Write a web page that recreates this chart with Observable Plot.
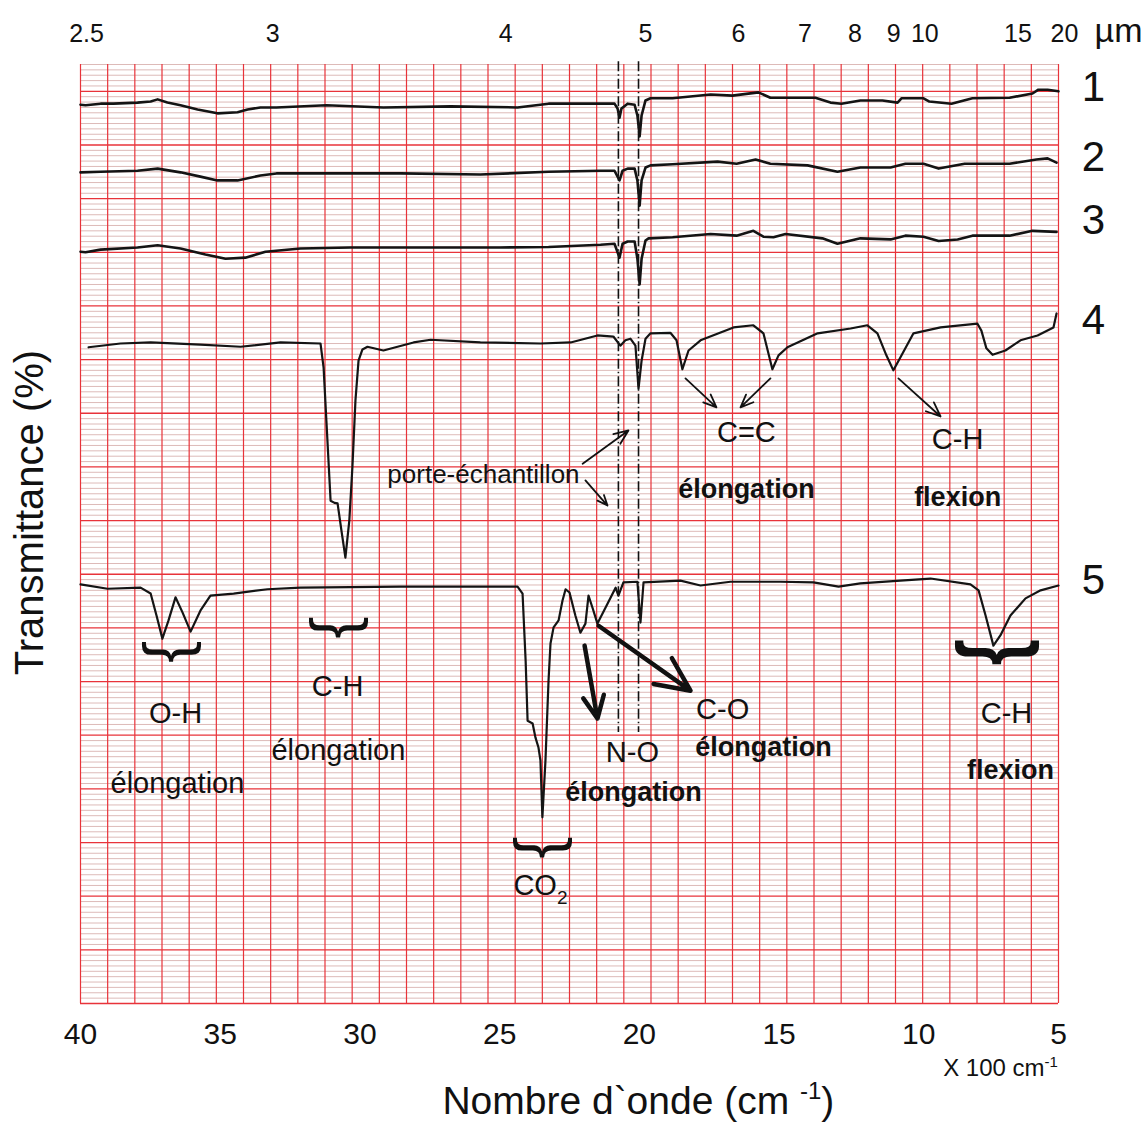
<!DOCTYPE html>
<html><head><meta charset="utf-8">
<script src="https://cdn.jsdelivr.net/npm/d3@7"></script>
<script src="https://cdn.jsdelivr.net/npm/@observablehq/plot@0.6"></script>
<style>
body{margin:0;background:#fff;}
#chart svg{display:block;}
</style></head><body><div id="chart"></div>
<script>
// Wavenumbers are in units of 100 cm-1; transmittance in chart-paper small divisions
const wn1 = [40.0,39.82,39.28,38.82,37.96,37.49,37.24,36.89,36.42,35.81,35.1,34.38,34.02,33.56,32.99,31.2,29.16,26.76,24.36,23.25,21.39,20.89,20.78,20.71,20.64,20.42,20.17,20.07,19.99,19.92,19.78,19.6,18.81,17.45,16.67,15.74,15.31,14.66,13.7,13.16,12.77,12.09,11.3,10.76,10.62,9.83,9.62,8.83,8.08,6.75,5.93,5.72,5.39,5.0];
const tr1 = [167.5,167.4,167.7,167.7,167.9,168.1,168.5,167.9,167.4,166.6,165.9,166.1,166.6,167.0,167.0,167.4,167.0,167.2,167.0,167.7,167.7,167.7,166.8,165.1,166.8,167.7,167.5,165.5,161.6,165.5,168.3,168.7,168.7,169.4,169.2,169.8,168.8,168.8,168.8,167.9,167.7,168.3,168.3,167.9,168.7,168.7,168.1,167.7,168.7,168.8,169.6,170.3,170.3,170.0];

const wn2 = [40.0,39.28,37.96,37.24,36.42,35.71,35.1,34.38,33.56,32.99,31.05,28.55,25.69,23.25,21.39,20.89,20.71,20.6,20.42,20.17,20.07,19.99,19.92,19.78,19.6,18.81,17.2,16.52,15.84,15.31,13.98,12.91,12.09,11.01,10.48,9.83,9.29,8.36,6.75,5.79,5.39,5.07];
const tr2 = [154.9,155.0,155.2,155.6,154.9,154.1,153.4,153.4,154.3,154.7,154.7,154.7,154.5,155.0,155.2,155.2,153.4,155.2,155.6,155.6,153.4,148.7,153.4,155.8,156.2,156.4,156.9,156.5,157.3,156.5,156.2,155.0,155.8,155.8,156.5,156.5,155.6,156.5,156.5,157.3,157.5,156.7];

const wn3 = [40.0,39.82,39.28,37.96,37.24,36.42,35.53,34.81,34.1,33.38,32.13,30.34,27.83,24.97,23.25,21.39,20.89,20.71,20.6,20.42,20.17,20.07,19.99,19.92,19.78,19.67,18.81,17.45,16.52,15.92,15.56,15.2,14.77,13.45,12.91,12.09,11.01,10.48,9.83,9.29,8.61,8.08,6.75,5.93,5.07];
const tr3 = [140.1,140.0,140.5,140.9,141.3,140.7,139.6,138.8,139.0,140.1,140.7,140.9,140.9,140.9,141.0,141.4,141.6,139.0,141.6,142.0,142.0,138.8,134.0,138.8,142.2,142.6,142.8,143.4,143.1,144.0,142.9,142.8,143.4,142.6,141.6,142.6,142.4,143.1,142.9,142.1,142.4,143.1,143.1,144.0,143.8];

const wn4 = [39.71,38.57,37.49,35.71,34.27,32.84,31.41,31.3,31.2,31.05,30.91,30.8,30.66,30.52,30.38,30.27,30.16,30.05,29.91,29.73,29.16,28.08,27.47,25.69,23.54,22.46,21.5,20.93,20.68,20.5,20.32,20.14,20.03,19.92,19.78,19.6,18.89,18.67,18.46,18.24,17.81,16.63,15.92,15.56,15.24,15.02,14.7,13.62,12.44,11.84,11.48,11.16,10.91,10.66,10.19,9.22,7.9,7.76,7.58,7.36,6.9,6.36,5.75,5.18,5.07];
const tr4 = [122.3,123.0,123.2,122.8,122.4,123.2,123.0,118.5,108.6,93.7,93.3,93.2,88.1,83.1,90.0,99.9,112.4,119.8,121.9,122.4,121.7,123.2,123.7,123.2,123.0,123.2,124.5,124.3,122.6,123.6,123.9,122.6,114.6,119.8,123.9,124.9,125.0,123.6,118.2,121.7,123.6,126.0,126.4,124.9,118.2,120.8,122.3,124.9,125.8,126.4,124.9,120.8,118.0,120.4,124.9,126.0,126.7,125.4,122.1,120.9,121.7,123.6,124.5,126.0,128.6];

const wn5 = [40.0,39.03,37.85,37.49,37.28,37.07,36.85,36.6,36.35,36.06,35.71,35.35,34.52,33.31,32.13,28.55,25.69,24.36,24.18,24.07,24.0,23.82,23.72,23.61,23.54,23.47,23.36,23.25,23.18,23.07,22.89,22.75,22.64,22.5,22.29,22.11,21.93,21.82,21.68,21.5,21.14,20.85,20.75,20.57,20.07,19.96,19.85,18.53,17.81,16.74,14.95,13.77,12.87,12.09,10.66,9.58,8.15,7.86,7.61,7.33,7.08,6.72,6.18,5.64,5.0];
const tr5 = [78.1,77.3,77.5,76.4,72.3,68.0,71.4,75.7,72.9,69.3,73.2,76.0,76.4,77.2,77.5,77.7,77.7,77.7,76.4,63.9,52.7,52.2,49.6,47.7,45.3,34.7,45.3,60.2,67.1,70.1,71.4,75.1,77.2,76.6,72.3,69.1,70.8,76.0,73.8,70.8,74.5,77.5,76.0,78.5,78.6,71.0,78.5,78.8,77.9,78.6,78.6,78.5,77.7,78.3,78.8,79.2,78.1,77.0,72.3,66.7,68.6,72.3,75.5,77.0,77.9];

const seriesNames = ["1","2","3","4","5"];
const seriesLabelTr = [170.7,157.7,145.9,127.3,78.8];

const bottomTicks = [40,35,30,25,20,15,10,5];
const micronTicks = [2.5,3,4,5,6,7,8,9,10,15,20];

// sample holder bands (dashed markers)
const holderWn = [20.75,20.03];

// annotations
const annoRegular = [
  {t:"C=C", wn:16.17, tr:106.4},
  {t:"C-H", wn:8.61, tr:105.1},
  {t:"O-H", wn:36.6, tr:54.0},
  {t:"élongation", wn:36.53, tr:41.0},
  {t:"C-H", wn:30.8, tr:59.1},
  {t:"élongation", wn:30.77, tr:47.1},
  {t:"CO2", wn:23.54, tr:22.0},
  {t:"N-O", wn:20.25, tr:46.8},
  {t:"C-O", wn:17.02, tr:54.8},
  {t:"C-H", wn:6.86, tr:54.0}
];
const annoBold = [
  {t:"élongation", wn:16.17, tr:95.8},
  {t:"flexion", wn:8.61, tr:94.3},
  {t:"élongation", wn:20.21, tr:39.3},
  {t:"élongation", wn:15.56, tr:47.7},
  {t:"flexion", wn:6.72, tr:43.4}
];
const holderLabel = [{t:"porte-échantillon", wn:25.58, tr:98.6}];
const thinArrows = [
  {a:18.35, b:116.5, c:17.24, d:111.1},
  {a:15.31, b:116.5, c:16.38, d:111.1},
  {a:10.73, b:116.5, c:9.22, d:109.4},
  {a:22.03, b:100.6, c:20.39, d:106.8},
  {a:21.93, b:97.5, c:21.14, d:92.8}
];
const thickArrows = [
  {a:21.96, b:66.7, c:21.5, d:53.1},
  {a:21.46, b:70.4, c:18.17, d:58.3}
];
const braces = [
  {wn:36.6, tr:65.5},
  {wn:30.62, tr:70.0},
  {wn:23.32, tr:29.0}
];
const bracesBold = [{wn:7.0, tr:65.5}];

const spectra = [wn1,wn2,wn3,wn4,wn5].map((w,k)=>({name:seriesNames[k], wn:w, tr:[tr1,tr2,tr3,tr4,tr5][k]}));
const rows = spectra.flatMap(s => s.wn.map((w,i)=>({name:s.name, wn:w, tr:s.tr[i]})));

const thinY = d3.range(0,176).filter(v => v % 10 !== 0);
const majorY = d3.range(0,171,10);
const gridX = d3.range(0,37).map(k => 40 - k*35/36);

const FONT = "'Liberation Sans', Arial, Helvetica, sans-serif";

const chart = Plot.plot({
  width:1147, height:1122,
  marginLeft:80, marginRight:89, marginTop:64, marginBottom:119,
  x:{domain:[40,5], axis:null},
  y:{domain:[0,175], axis:null},
  style:{background:"#fff", fontFamily:FONT, overflow:"visible"},
  marks:[
    Plot.ruleY(thinY, {y:d=>d, stroke:"#d9b2b0", strokeWidth:0.9}),
    Plot.ruleY(majorY, {y:d=>d, stroke:"#e8333a", strokeWidth:1.3}),
    Plot.ruleX(gridX, {x:d=>d, stroke:"#e8333a", strokeWidth:1.2}),
    Plot.ruleX(holderWn, {x:d=>d, y1:175.5, y2:50.5, stroke:"#111", strokeWidth:1.6, strokeDasharray:"10,3,1.5,3"}),
    Plot.line(rows.filter(r => r.name <= "3"), {x:"wn", y:"tr", z:"name", stroke:"#141414", strokeWidth:2.6, strokeLinejoin:"round", strokeLinecap:"round"}),
    Plot.line(rows.filter(r => r.name > "3"), {x:"wn", y:"tr", z:"name", stroke:"#141414", strokeWidth:2.2, strokeLinejoin:"round", strokeLinecap:"round"}),
    // top micron scale
    Plot.text(micronTicks, {x:d=>100/d, y:175, dx:6, dy:-31, text:d=>String(d), fontSize:25, fill:"#111"}),
    Plot.text(["µm"], {x:5, y:175, dx:60, dy:-33, text:d=>d, fontSize:34, fill:"#111"}),
    // series numbers
    Plot.text(seriesNames, {x:5, y:(d,i)=>seriesLabelTr[i], dx:35, text:d=>d, fontSize:42, fill:"#111"}),
    // bottom ticks
    Plot.text(bottomTicks, {x:d=>d, y:0, dy:31, text:d=>String(d), fontSize:30, fill:"#111"}),
    Plot.text(["X 100 cm-1"], {x:5, y:0, dx:-58, dy:65, text:d=>d, fontSize:24, fill:"#111"}),
    Plot.text(["Nombre d`onde (cm -1)"], {x:20.5, y:0, dx:13, dy:98, text:d=>d, fontSize:39, fill:"#111"}),
    Plot.text(["Transmittance (%)"], {x:40, y:91.5, dx:-50, text:d=>d, fontSize:40, rotate:-90, fill:"#111"}),
    // annotations
    Plot.arrow(thinArrows, {x1:"a", y1:"b", x2:"c", y2:"d", stroke:"#111", strokeWidth:1.8, headLength:13, headAngle:45}),
    Plot.arrow(thickArrows, {x1:"a", y1:"b", x2:"c", y2:"d", stroke:"#111", strokeWidth:4.5, headLength:20, headAngle:50}),
    Plot.text(annoRegular, {x:"wn", y:"tr", text:"t", fontSize:29, fill:"#111"}),
    Plot.text(annoBold, {x:"wn", y:"tr", text:"t", fontSize:27, fontWeight:"bold", fill:"#111"}),
    Plot.text(holderLabel, {x:"wn", y:"tr", text:"t", fontSize:26, fill:"#111"}),
    Plot.text(braces, {x:"wn", y:"tr", text:()=>"}", fontSize:44, rotate:90, fill:"#111"}),
    Plot.text(bracesBold, {x:"wn", y:"tr", text:()=>"}", fontSize:48, fontWeight:"bold", rotate:90, fill:"#111"})
  ]
});

const root = d3.select(chart);
function rewrite(match, build){
  root.selectAll("text").filter(function(){return this.textContent === match;}).each(function(){
    const t = d3.select(this); t.text(null); build(t);
  });
}
rewrite("Nombre d`onde (cm -1)", t => {
  t.append("tspan").text("Nombre d`onde (cm ");
  t.append("tspan").attr("dy","-15").attr("font-size","24").text("-1");
  t.append("tspan").attr("dy","15").text(")");
});
rewrite("X 100 cm-1", t => {
  t.append("tspan").text("X 100 cm");
  t.append("tspan").attr("dy","-9").attr("font-size","15").text("-1");
});
rewrite("CO2", t => {
  t.append("tspan").text("CO");
  t.append("tspan").attr("dy","9").attr("font-size","19").text("2");
});
root.selectAll("text").filter(function(){return this.textContent === "}";}).each(function(){
  const el = d3.select(this);
  const bold = el.attr("font-weight") === "bold" || (this.parentNode && this.parentNode.getAttribute("font-weight") === "bold");
  const tr = el.attr("transform") || "";
  el.attr("transform", tr + (bold ? " scale(1.4,1.85)" : " scale(1.5,1.45)"));
});

document.getElementById("chart").appendChild(chart);
</script>
</body></html>
